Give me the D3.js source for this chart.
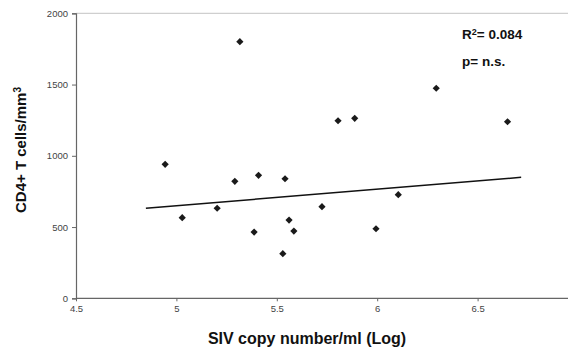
<!DOCTYPE html>
<html>
<head>
<meta charset="utf-8">
<script src="https://cdn.jsdelivr.net/npm/d3@7"></script>
<style>
  body { margin: 0; background: #fff; }
  svg { display: block; font-family: Arial, "Liberation Sans", sans-serif; }
</style>
</head>
<body>
<div id="chart"></div>
<script>
// values
var sivLog = [5.316, 5.805, 5.888, 6.294, 6.649, 4.944, 5.029, 5.203, 5.291, 5.387,
              5.409, 5.541, 5.530, 5.561, 5.585, 5.725, 5.994, 6.105];
var cd4    = [1801, 1246, 1263, 1474, 1239, 940, 566, 632, 821, 465,
              863, 839, 313, 549, 472, 643, 488, 727];
var trendX = [4.848, 6.717];
var trendY = [632, 849];
var xTicks = [4.5, 5, 5.5, 6, 6.5];
var yTicks = [0, 500, 1000, 1500, 2000];

var width = 568,
    height = 356;

var svg = d3.select("#chart")
    .append("svg")
    .attr("width", width)
    .attr("height", height);

var x = d3.scaleLinear().domain([4.5, 7]).range([76, 578]);
var y = d3.scaleLinear().domain([0, 2000]).range([298.3, 13.3]);

// top frame line
svg.append("line")
    .attr("x1", x(4.5)).attr("x2", width)
    .attr("y1", y(2000)).attr("y2", y(2000))
    .attr("stroke", "#c4c4c4").attr("stroke-width", 1);

var yAxis = svg.append("g")
    .attr("transform", "translate(" + x(4.5) + ",0)")
    .call(d3.axisLeft(y).tickValues(yTicks).tickSize(4).tickPadding(4).tickFormat(d3.format("d")));

var xAxis = svg.append("g")
    .attr("transform", "translate(0," + y(0) + ")")
    .call(d3.axisBottom(x).tickValues(xTicks).tickSize(3).tickPadding(4).tickFormat(function(d) { return d; }));

[xAxis, yAxis].forEach(function(a) {
    a.select(".domain").attr("stroke", "#666").attr("stroke-width", 1.2);
    a.selectAll(".tick line").attr("stroke", "#666");
    a.selectAll(".tick text").attr("fill", "#444").style("font-size", "9.5px");
});
xAxis.select(".domain").attr("d", "M" + x(4.5) + ",0H" + width);

// trend line
svg.append("line")
    .attr("x1", x(trendX[0])).attr("y1", y(trendY[0]))
    .attr("x2", x(trendX[1])).attr("y2", y(trendY[1]))
    .attr("stroke", "#111").attr("stroke-width", 1.5);

// points
var pts = sivLog.map(function(v, i) { return { x: v, y: cd4[i] }; });
svg.selectAll(".pt")
    .data(pts)
    .enter().append("path")
    .attr("class", "pt")
    .attr("d", "M0,-3.6L3.6,0L0,3.6L-3.6,0Z")
    .attr("transform", function(d) { return "translate(" + x(d.x) + "," + y(d.y) + ")"; })
    .attr("fill", "#1a1a1a");

// stats
svg.append("text")
    .attr("x", 462).attr("y", 39)
    .style("font-size", "13.5px").style("font-weight", "bold").attr("fill", "#111")
    .html('R<tspan dy="-4" font-size="9px">2</tspan><tspan dy="4">= 0.084</tspan>');
svg.append("text")
    .attr("x", 462).attr("y", 66)
    .style("font-size", "13.5px").style("font-weight", "bold").attr("fill", "#111")
    .text("p= n.s.");

// axis titles
svg.append("text")
    .attr("x", 307).attr("y", 344)
    .attr("text-anchor", "middle")
    .style("font-size", "16px").style("font-weight", "bold").attr("fill", "#111")
    .text("SIV copy number/ml (Log)");

svg.append("text")
    .attr("transform", "translate(26,150) rotate(-90)")
    .attr("text-anchor", "middle")
    .style("font-size", "15px").style("font-weight", "bold").attr("fill", "#111")
    .html('CD4+ T cells/mm<tspan dy="-5" font-size="10px">3</tspan>');
</script>
</body>
</html>
